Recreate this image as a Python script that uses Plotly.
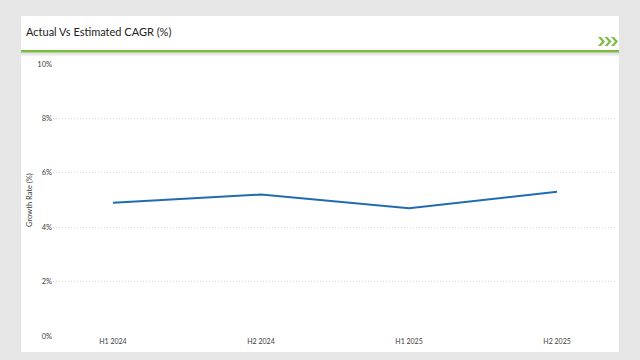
import plotly.graph_objects as go

periods = ["H1 2024", "H2 2024", "H1 2025", "H2 2025"]
growth_rate = [4.9, 5.2, 4.7, 5.3]
y_ticks = [0, 2, 4, 6, 8, 10]
y_tick_labels = ["0%", "2%", "4%", "6%", "8%", "10%"]

W, H = 640, 360
L, R, T, B = 53, 23, 64, 24
PW, PH = W - L - R, H - T - B

def px(x):
    return (x - L) / PW

def py(y):
    return (H - B - y) / PH

FONT = "Lato, 'Open Sans', sans-serif"
GREEN = "#7dbb42"

fig = go.Figure()
fig.add_trace(go.Scatter(
    x=list(range(len(periods))), y=growth_rate, mode="lines",
    line=dict(color="#1f6db0", width=2), hoverinfo="skip", showlegend=False,
))

shapes = [
    dict(type="rect", xref="paper", yref="paper", x0=px(21), x1=px(619), y0=py(50), y1=py(16),
         fillcolor="white", line=dict(width=0), layer="below"),
    dict(type="rect", xref="paper", yref="paper", x0=px(21), x1=px(619), y0=py(52.5), y1=py(50),
         fillcolor=GREEN, line=dict(width=0), layer="below"),
    dict(type="rect", xref="paper", yref="paper", x0=px(21), x1=px(619), y0=py(352), y1=py(55.5),
         fillcolor="white", line=dict(width=0), layer="below"),
]
# chevrons
for i in range(3):
    x0 = 598 + i * 6.5
    pts = [(x0, 37), (x0 + 3, 37), (x0 + 7, 41.5), (x0 + 3, 46), (x0, 46), (x0 + 4, 41.5)]
    path = "M " + " L ".join(f"{px(a):.5f},{py(b):.5f}" for a, b in pts) + " Z"
    shapes.append(dict(type="path", xref="paper", yref="paper", path=path,
                       fillcolor=GREEN, line=dict(width=0), layer="above"))

fig.update_layout(
    width=W, height=H,
    margin=dict(l=L, r=R, t=T, b=B, autoexpand=False),
    paper_bgcolor="#e6e6e6", plot_bgcolor="white",
    shapes=shapes,
    font=dict(family=FONT, size=8, color="#404040"),
    annotations=[
        dict(text="Actual Vs Estimated CAGR (%)", xref="paper", yref="paper",
             x=px(24), y=py(32), xanchor="left", yanchor="middle", showarrow=False,
             font=dict(family=FONT, size=11, color="#222222")),
    ],
    xaxis=dict(
        tickmode="array", tickvals=list(range(len(periods))), ticktext=periods,
        range=[-0.405, 3.405], showgrid=False, zeroline=False, showline=False,
        ticks="", tickfont=dict(size=7, color="#404040"),
    ),
    yaxis=dict(
        range=[0, 10], tickmode="array", tickvals=y_ticks, ticktext=y_tick_labels,
        showgrid=True, gridcolor="#d9d9d9", griddash="1px,2px", gridwidth=1,
        zeroline=False, showline=False, ticks="",
        tickfont=dict(size=7.5, color="#404040"),
        title=dict(text="Growth Rate (%)", font=dict(size=7.5, color="#404040"), standoff=3),
    ),
)

fig.write_html("out.html", config={"displayModeBar": False},
               post_script="document.body.style.margin='0';document.body.style.padding='0';")
